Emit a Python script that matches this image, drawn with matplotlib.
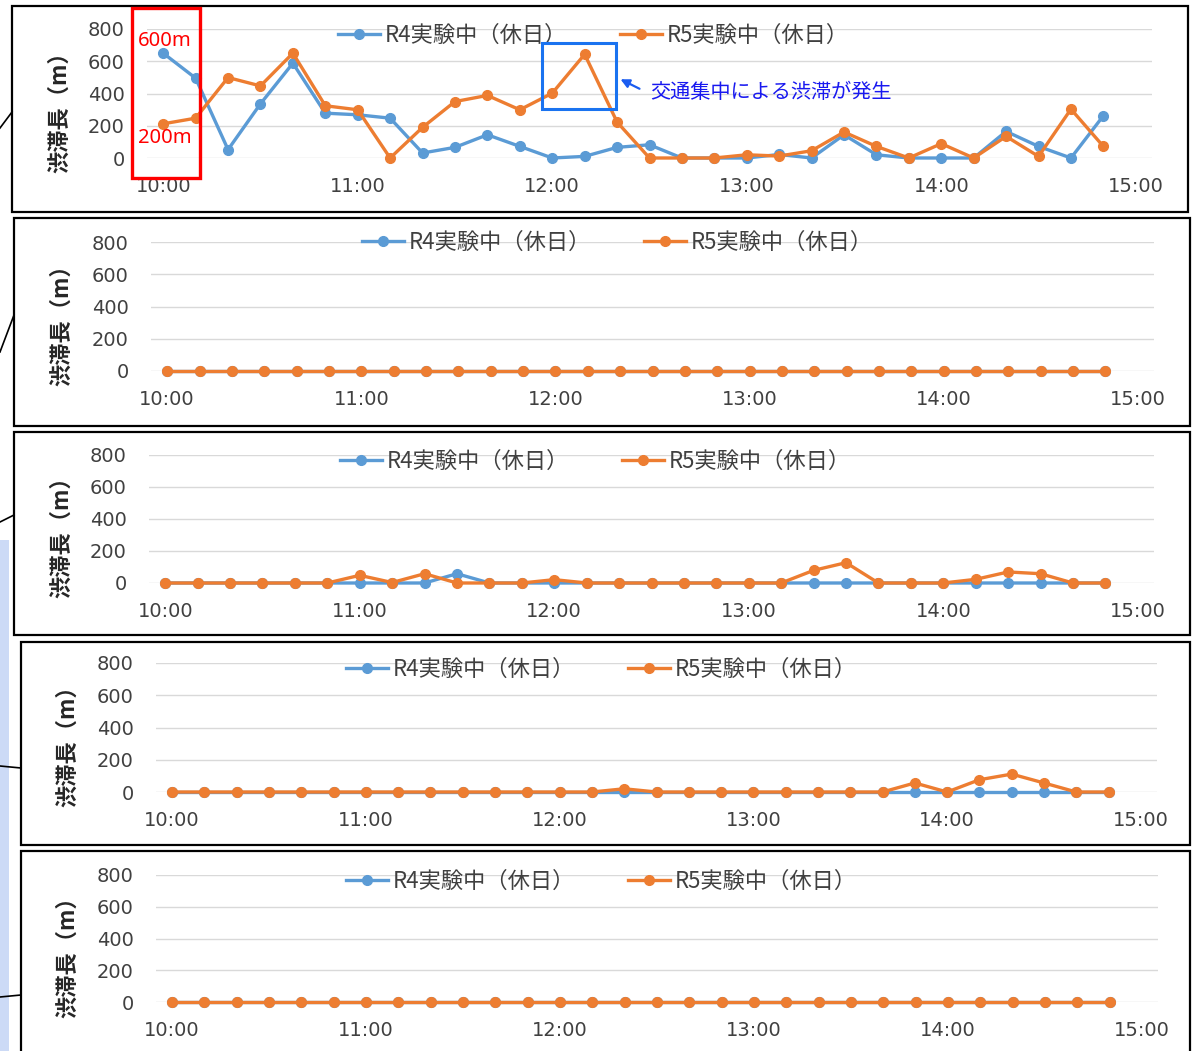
import matplotlib
matplotlib.use("Agg")
import matplotlib.pyplot as plt
from matplotlib.patches import Rectangle, FancyArrowPatch
from matplotlib.lines import Line2D

plt.rcParams['font.family'] = ['Noto Sans CJK JP', 'DejaVu Sans']

# 10-minute slots 10:00 .. 15:00 (31 categories, data in the first 30)
slots = ['10:00', '10:10', '10:20', '10:30', '10:40', '10:50',
         '11:00', '11:10', '11:20', '11:30', '11:40', '11:50',
         '12:00', '12:10', '12:20', '12:30', '12:40', '12:50',
         '13:00', '13:10', '13:20', '13:30', '13:40', '13:50',
         '14:00', '14:10', '14:20', '14:30', '14:40', '14:50', '15:00']
hour_labels = ['10:00', '11:00', '12:00', '13:00', '14:00', '15:00']
yticks = [0, 200, 400, 600, 800]

r4_p1 = [650, 495, 52, 336, 588, 278, 268, 247, 31, 66, 144, 72, 0, 10, 66,
         82, 0, 0, 0, 22, 0, 144, 20, 0, 0, 0, 165, 72, 0, 262]
r5_p1 = [212, 247, 499, 447, 650, 324, 299, 0, 190, 350, 388, 299, 402, 643, 223,
         0, 0, 0, 20, 12, 45, 161, 72, 0, 89, 0, 134, 10, 303, 72]
r4_p2 = [0] * 30
r5_p2 = [0] * 30
r4_p3 = [0, 0, 0, 0, 0, 0, 0, 0, 0, 58, 0, 0, 0, 0, 0,
         0, 0, 0, 0, 0, 0, 0, 0, 0, 0, 0, 0, 0, 0, 0]
r5_p3 = [0, 0, 0, 0, 0, 0, 48, 3, 58, 0, 0, 0, 21, 0, 0,
         0, 0, 0, 0, 0, 79, 127, 0, 0, 0, 23, 69, 58, 0, 0]
r4_p4 = [0] * 30
r5_p4 = [0, 0, 0, 0, 0, 0, 0, 0, 0, 0, 0, 0, 0, 0, 20,
         0, 0, 0, 0, 0, 0, 0, 0, 56, 0, 76, 111, 56, 0, 0]
r4_p5 = [0] * 30
r5_p5 = [0] * 30

series = [(r4_p1, r5_p1), (r4_p2, r5_p2), (r4_p3, r5_p3), (r4_p4, r5_p4), (r4_p5, r5_p5)]
names = ['R4実験中（休日）', 'R5実験中（休日）']

W, H = 1192, 1051
fig = plt.figure(figsize=(W / 100, H / 100), dpi=100)
fig.patch.set_facecolor('white')

blue = '#5B9BD5'
orange = '#ED7D31'


def fx(x):
    return x / W


def fy(y):
    return 1 - y / H


# plot areas (left, top, right, bottom) in pixels
areas = [(147, 29, 1152, 158), (151, 242, 1154, 371), (149, 455, 1154, 583),
         (156, 663, 1157, 792), (156, 875, 1158, 1002)]
boxes = [(12, 6, 1188, 212), (14, 218, 1190, 426), (14, 432, 1190, 635),
         (21, 642, 1190, 845), (21, 851, 1190, 1060)]
legend_pos = [(338, 35), (362, 242), (340, 461), (346, 669), (346, 881)]
ylab_x = [60, 62, 62, 68, 68]
connectors = [((0, 128), (12, 112)), ((0, 352), (14, 315)), ((0, 522), (14, 515)),
              ((0, 766), (21, 768)), ((0, 997), (21, 995))]

# left edge strip
fig.add_artist(Rectangle((0, fy(1051)), fx(9), (1051 - 540) / H, transform=fig.transFigure,
                         facecolor='#CCDAF6', edgecolor='none'))

for i, (r4, r5) in enumerate(series):
    l, t, r, b = areas[i]
    ax = fig.add_axes([fx(l), fy(b), fx(r - l), (b - t) / H])
    ax.set_facecolor('none')
    idx = list(range(len(r4)))
    ax.plot(idx, r4, color=blue, lw=2.4, marker='o', ms=7, clip_on=False, zorder=3)
    ax.plot(idx, r5, color=orange, lw=2.4, marker='o', ms=7, clip_on=False, zorder=4)
    ax.set_xlim(-0.5, len(slots) - 0.5)
    ax.set_ylim(0, 800)
    ax.set_yticks(yticks)
    ax.set_yticklabels([str(v) for v in yticks])
    ax.set_xticks([slots.index(h) for h in hour_labels])
    ax.set_xticklabels(hour_labels)
    for s in ax.spines.values():
        s.set_visible(False)
    ax.grid(axis='y', color='#D9D9D9', lw=1.0)
    ax.set_axisbelow(True)
    ax.tick_params(length=0, labelsize=14, colors='#404040')
    ax.tick_params(axis='y', pad=16)
    ax.tick_params(axis='x', pad=14)
    for lab in ax.get_xticklabels() + ax.get_yticklabels():
        lab.set_family('DejaVu Sans')
    ax.text(fx(ylab_x[i]), fy(t + (b - t) * 0.6), '渋滞長（m）', transform=fig.transFigure,
            rotation=90, ha='center', va='center', fontsize=16, fontweight='bold', color='#262626')
    handles = [Line2D([], [], color=blue, lw=2.4, marker='o', ms=7),
               Line2D([], [], color=orange, lw=2.4, marker='o', ms=7)]
    lx, ly = legend_pos[i]
    leg = ax.legend(handles, names, ncol=2, loc='center left', bbox_to_anchor=(fx(lx), fy(ly)),
                    bbox_transform=fig.transFigure, frameon=False, fontsize=16,
                    handlelength=1.9, handletextpad=0.22, columnspacing=2.35,
                    borderaxespad=0, borderpad=0)
    for txt in leg.get_texts():
        txt.set_color('#404040')
    bl, bt, br, bb = boxes[i]
    fig.add_artist(Rectangle((fx(bl), fy(bb)), fx(br - bl), (bb - bt) / H, transform=fig.transFigure,
                             fill=False, edgecolor='black', lw=1.6))
    (x0, y0), (x1, y1) = connectors[i]
    fig.add_artist(Line2D([fx(x0), fx(x1)], [fy(y0), fy(y1)], transform=fig.transFigure,
                          color='black', lw=1.2))

# annotations on the first panel
fig.add_artist(Rectangle((fx(132), fy(178)), fx(200 - 132), (178 - 8) / H, transform=fig.transFigure,
                         fill=False, edgecolor='#FF0000', lw=2.4))
fig.text(fx(138), fy(41), '600m', color='#FF0000', fontsize=14.5, ha='left', va='center',
         family=['Noto Sans', 'DejaVu Sans'])
fig.text(fx(138), fy(138), '200m', color='#FF0000', fontsize=14.5, ha='left', va='center',
         family=['Noto Sans', 'DejaVu Sans'])
fig.add_artist(Rectangle((fx(542), fy(109)), fx(616 - 542), (109 - 43) / H, transform=fig.transFigure,
                         fill=False, edgecolor='#1A73F0', lw=2.2))
fig.add_artist(FancyArrowPatch((fx(642), fy(90)), (fx(618), fy(78)), transform=fig.transFigure,
                               arrowstyle='-|>', mutation_scale=13, color='#1A5CF0', lw=1.6))
fig.text(fx(650), fy(92), '交通集中による渋滞が発生', color='#1818F0', fontsize=14.5,
         ha='left', va='center')

fig.savefig('out.png', dpi=100)
